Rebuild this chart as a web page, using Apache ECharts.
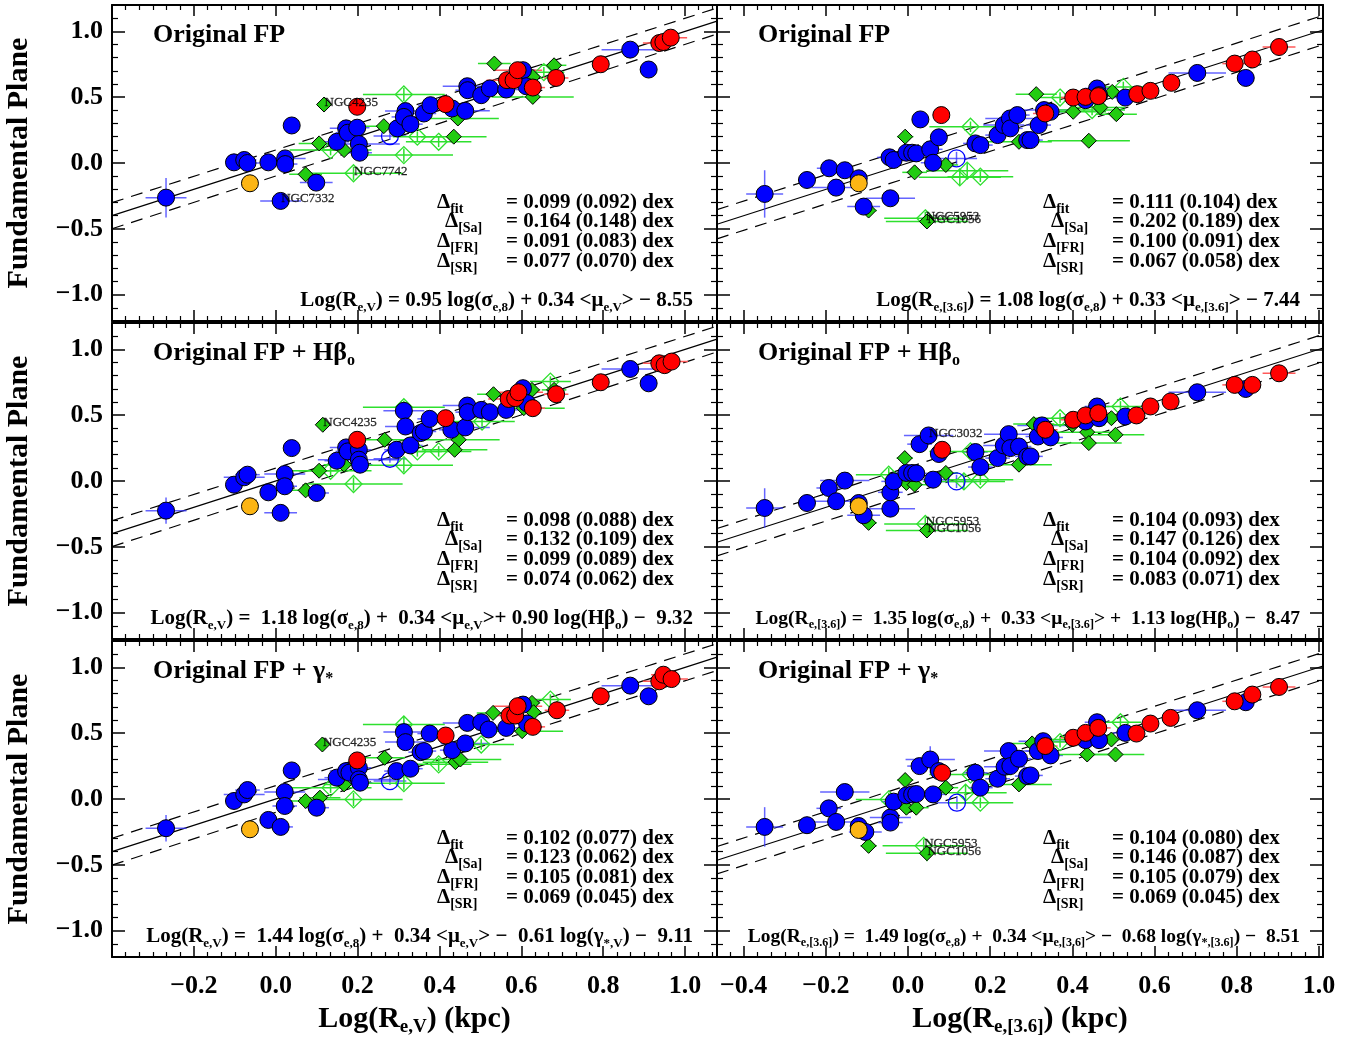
<!DOCTYPE html>
<html><head><meta charset="utf-8">
<script src="https://cdn.jsdelivr.net/npm/echarts@6/dist/echarts.min.js"></script>
<style>html,body{margin:0;padding:0;background:#fff}#c{width:1364px;height:1040px}</style>
</head><body><div id="c"></div>
<script>
// ---------------- DATA: [x, y, xerr, yerr] ----------------
// Panel 1: top-left (Original FP, V band)
const P1_blue = [[-0.268,-0.263,0.05,0.15],[-0.102,0.005,0.02,0.02],[-0.077,0.023,0.03,0.03],[-0.069,0.0,0.03,0.02],[-0.018,0.005,0.02,0.02],[0.023,0.035,0.05,0.03],[0.023,-0.008,0.03,0.02],[0.039,0.285,0.01,0.01],[0.099,-0.149,0.04,0.02],[0.012,-0.288,0.05,0.05],[0.149,0.161,0.03,0.02],[0.172,0.263,0.04,0.03],[0.176,0.23,0.03,0.02],[0.199,0.268,0.03,0.02],[0.203,0.144,0.1,0.02],[0.205,0.078,0.03,0.02],[0.297,0.263,0.03,0.02],[0.317,0.394,0.05,0.03],[0.313,0.35,0.03,0.02],[0.329,0.295,0.03,0.02],[0.362,0.376,0.03,0.02],[0.378,0.439,0.03,0.02],[0.431,0.414,0.03,0.02],[0.463,0.396,0.06,0.02],[0.468,0.583,0.06,0.02],[0.469,0.553,0.03,0.02],[0.502,0.515,0.03,0.02],[0.523,0.566,0.03,0.02],[0.563,0.558,0.03,0.02],[0.604,0.705,0.03,0.02],[0.612,0.583,0.03,0.02],[0.866,0.861,0.07,0.02],[0.911,0.71,0.02,0.02]];
const P1_blueOpen = [[0.279,0.205,0.04,0.03]];
const P1_orange = [[-0.063,-0.154,0.01,0.01]];
const P1_red = [[0.199,0.427,0.01,0.01],[0.415,0.447,0.02,0.01],[0.565,0.629,0.05,0.01],[0.581,0.629,0.03,0.01],[0.591,0.705,0.06,0.01],[0.628,0.573,0.03,0.01],[0.685,0.646,0.03,0.01],[0.794,0.75,0.02,0.01],[0.937,0.911,0.04,0.01],[0.947,0.919,0.03,0.01],[0.965,0.952,0.04,0.01]];
const P1_green = [[0.118,0.444,0.01,0.01],[0.106,0.149,0.05,0.02],[0.167,0.098,0.05,0.02],[0.073,-0.086,0.04,0.02],[0.264,0.28,0.05,0.02],[0.534,0.755,0.04,0.02],[0.68,0.742,0.03,0.02],[0.445,0.338,0.1,0.02],[0.435,0.2,0.08,0.02],[0.628,0.502,0.1,0.02],[0.628,0.654,0.02,0.02]];
const P1_greenOpen = [[0.313,0.52,0.1,0.05],[0.313,0.06,0.12,0.05],[0.19,-0.078,0.12,0.05],[0.134,0.098,0.1,0.04],[0.346,0.2,0.06,0.04],[0.398,0.161,0.08,0.04],[0.655,0.69,0.05,0.04]];
const P1_labels = [[0.118,0.444,'NGC4235'],[0.19,-0.078,'NGC7742'],[0.012,-0.288,'NGC7332']];

// Panel 2: top-right (Original FP, 3.6 micron)
const P2_blue = [[-0.349,-0.235,0.045,0.18],[-0.246,-0.129,0.02,0.05],[-0.192,-0.04,0.03,0.05],[-0.154,-0.055,0.02,0.03],[-0.175,-0.187,0.06,0.03],[-0.12,-0.116,0.02,0.05],[-0.108,-0.331,0.04,0.02],[-0.043,-0.268,0.06,0.03],[-0.045,0.043,0.03,0.04],[-0.035,0.023,0.03,0.02],[-0.004,0.078,0.03,0.02],[0.01,0.078,0.03,0.02],[0.02,0.073,0.03,0.02],[0.03,0.331,0.01,0.01],[0.054,0.104,0.03,0.03],[0.061,0.002,0.03,0.02],[0.075,0.195,0.02,0.02],[0.164,0.149,0.03,0.02],[0.176,0.136,0.03,0.02],[0.218,0.212,0.03,0.02],[0.233,0.288,0.05,0.02],[0.248,0.338,0.06,0.02],[0.249,0.263,0.03,0.02],[0.266,0.364,0.03,0.02],[0.29,0.174,0.03,0.02],[0.298,0.174,0.03,0.02],[0.318,0.288,0.03,0.02],[0.331,0.402,0.06,0.02],[0.347,0.389,0.03,0.02],[0.432,0.477,0.03,0.02],[0.46,0.566,0.03,0.02],[0.465,0.515,0.03,0.02],[0.529,0.497,0.03,0.02],[0.704,0.684,0.07,0.02],[0.822,0.646,0.02,0.02]];
const P2_blueOpen = [[0.118,0.035,0.05,0.05]];
const P2_orange = [[-0.12,-0.154,0.01,0.01]];
const P2_red = [[0.081,0.364,0.01,0.01],[0.334,0.376,0.03,0.01],[0.402,0.497,0.03,0.01],[0.432,0.502,0.03,0.01],[0.463,0.508,0.03,0.01],[0.558,0.523,0.02,0.01],[0.59,0.548,0.02,0.01],[0.641,0.609,0.02,0.01],[0.795,0.755,0.03,0.01],[0.838,0.786,0.02,0.01],[0.903,0.881,0.04,0.01]];
const P2_green = [[-0.007,0.2,0.02,0.02],[0.016,-0.071,0.03,0.02],[0.092,-0.015,0.03,0.02],[-0.096,-0.361,0.02,0.02],[0.046,-0.444,0.1,0.04],[0.27,0.161,0.08,0.02],[0.312,0.523,0.05,0.02],[0.402,0.389,0.08,0.02],[0.468,0.422,0.06,0.02],[0.497,0.54,0.05,0.02],[0.507,0.371,0.05,0.02],[0.44,0.169,0.1,0.02]];
const P2_greenOpen = [[0.152,0.275,0.1,0.04],[0.126,-0.109,0.1,0.06],[0.144,-0.058,0.1,0.06],[0.176,-0.104,0.08,0.04],[0.37,0.497,0.06,0.04],[0.524,0.578,0.05,0.04],[0.448,0.402,0.08,0.04],[0.042,-0.42,0.1,0.05]];
const P2_labels = [[0.042,-0.42,'NGC5953'],[0.046,-0.444,'NGC1056']];

// Panel 3: middle-left (Original FP + Hbeta, V band)
const P3_blue = [[-0.268,-0.225,0.05,0.1],[-0.102,-0.028,0.02,0.02],[-0.077,0.028,0.05,0.02],[-0.069,0.048,0.03,0.02],[-0.018,-0.086,0.02,0.02],[0.022,0.053,0.05,0.02],[0.022,-0.04,0.03,0.02],[0.039,0.25,0.01,0.01],[0.012,-0.242,0.04,0.04],[0.1,-0.091,0.03,0.02],[0.149,0.154,0.03,0.02],[0.172,0.255,0.04,0.02],[0.176,0.225,0.03,0.02],[0.203,0.237,0.03,0.02],[0.203,0.162,0.1,0.02],[0.206,0.124,0.03,0.02],[0.295,0.237,0.03,0.02],[0.313,0.533,0.05,0.02],[0.317,0.414,0.05,0.02],[0.329,0.27,0.03,0.02],[0.354,0.364,0.03,0.02],[0.362,0.376,0.03,0.02],[0.376,0.472,0.03,0.02],[0.429,0.389,0.03,0.02],[0.463,0.407,0.06,0.02],[0.468,0.573,0.06,0.02],[0.469,0.523,0.03,0.02],[0.502,0.54,0.03,0.02],[0.523,0.523,0.03,0.02],[0.563,0.54,0.03,0.02],[0.604,0.705,0.03,0.02],[0.614,0.591,0.03,0.02],[0.866,0.851,0.07,0.02],[0.911,0.742,0.02,0.02]];
const P3_blueOpen = [[0.279,0.169,0.04,0.03]];
const P3_orange = [[-0.063,-0.192,0.01,0.01]];
const P3_red = [[0.199,0.313,0.01,0.01],[0.415,0.477,0.02,0.01],[0.569,0.623,0.05,0.01],[0.585,0.629,0.03,0.01],[0.593,0.674,0.06,0.01],[0.628,0.553,0.03,0.01],[0.685,0.659,0.03,0.01],[0.794,0.75,0.02,0.01],[0.937,0.894,0.04,0.01],[0.95,0.88,0.03,0.01],[0.967,0.907,0.04,0.01]];
const P3_green = [[0.115,0.427,0.01,0.01],[0.106,0.078,0.05,0.02],[0.167,0.124,0.05,0.02],[0.073,-0.071,0.04,0.02],[0.266,0.313,0.05,0.02],[0.532,0.659,0.04,0.02],[0.68,0.692,0.03,0.02],[0.447,0.313,0.1,0.02],[0.437,0.237,0.08,0.02],[0.626,0.692,0.02,0.02],[0.606,0.553,0.1,0.02]];
const P3_greenOpen = [[0.19,-0.023,0.12,0.05],[0.313,0.119,0.12,0.05],[0.134,0.078,0.1,0.04],[0.346,0.225,0.06,0.04],[0.398,0.225,0.08,0.04],[0.504,0.452,0.08,0.04],[0.671,0.755,0.05,0.04],[0.313,0.56,0.1,0.05]];
const P3_labels = [[0.115,0.427,'NGC4235']];

// Panel 4: middle-right (Original FP + Hbeta, 3.6 micron)
const P4_blue = [[-0.349,-0.205,0.045,0.15],[-0.246,-0.167,0.02,0.04],[-0.193,-0.053,0.03,0.05],[-0.154,0.003,0.06,0.02],[-0.175,-0.154,0.06,0.03],[-0.12,-0.167,0.02,0.05],[-0.108,-0.26,0.04,0.02],[-0.043,-0.21,0.06,0.03],[-0.043,-0.086,0.03,0.04],[-0.035,-0.003,0.03,0.02],[-0.004,0.061,0.03,0.02],[0.01,0.061,0.03,0.02],[0.02,0.058,0.03,0.02],[0.028,0.28,0.03,0.02],[0.05,0.346,0.06,0.02],[0.061,0.01,0.03,0.02],[0.075,0.205,0.02,0.02],[0.164,0.22,0.03,0.02],[0.176,0.106,0.03,0.02],[0.218,0.174,0.03,0.02],[0.233,0.27,0.05,0.02],[0.245,0.356,0.06,0.02],[0.249,0.25,0.03,0.02],[0.27,0.262,0.03,0.02],[0.29,0.187,0.03,0.02],[0.298,0.187,0.03,0.02],[0.316,0.338,0.03,0.02],[0.326,0.422,0.06,0.02],[0.347,0.331,0.03,0.02],[0.432,0.452,0.03,0.02],[0.46,0.566,0.03,0.02],[0.465,0.477,0.03,0.02],[0.529,0.49,0.03,0.02],[0.704,0.674,0.07,0.02],[0.822,0.699,0.02,0.02]];
const P4_blueOpen = [[0.118,-0.003,0.05,0.05]];
const P4_orange = [[-0.12,-0.192,0.01,0.01]];
const P4_red = [[0.083,0.237,0.01,0.01],[0.334,0.389,0.03,0.01],[0.402,0.465,0.03,0.01],[0.432,0.498,0.03,0.01],[0.463,0.515,0.03,0.01],[0.556,0.498,0.02,0.01],[0.59,0.566,0.02,0.01],[0.639,0.604,0.02,0.01],[0.795,0.73,0.03,0.01],[0.838,0.73,0.02,0.01],[0.903,0.818,0.04,0.01]];
const P4_green = [[-0.008,0.174,0.02,0.02],[-0.004,-0.015,0.03,0.02],[0.016,-0.028,0.03,0.02],[0.092,0.061,0.03,0.02],[-0.096,-0.318,0.02,0.02],[0.046,-0.376,0.1,0.04],[0.27,0.124,0.08,0.02],[0.306,0.432,0.05,0.02],[0.436,0.371,0.08,0.02],[0.44,0.288,0.08,0.02],[0.505,0.351,0.07,0.02],[0.495,0.477,0.05,0.02],[0.4,0.427,0.08,0.02]];
const P4_greenOpen = [[0.042,-0.326,0.1,0.05],[-0.047,0.048,0.08,0.05],[0.152,0.225,0.1,0.04],[0.136,-0.003,0.1,0.06],[0.176,0.01,0.08,0.04],[0.37,0.477,0.06,0.04],[0.517,0.566,0.05,0.04]];
const P4_labels = [[0.05,0.346,'NGC3032'],[0.042,-0.326,'NGC5953'],[0.046,-0.376,'NGC1056']];

// Panel 5: bottom-left (Original FP + gamma, V band)
const P5_blue = [[-0.268,-0.222,0.05,0.1],[-0.102,-0.015,0.02,0.03],[-0.077,0.035,0.05,0.03],[-0.069,0.068,0.03,0.05],[-0.018,-0.159,0.02,0.02],[0.012,-0.212,0.03,0.03],[0.022,0.053,0.05,0.03],[0.022,-0.053,0.03,0.03],[0.039,0.217,0.01,0.01],[0.1,-0.066,0.03,0.02],[0.149,0.162,0.03,0.02],[0.172,0.212,0.04,0.02],[0.18,0.2,0.03,0.02],[0.203,0.237,0.03,0.02],[0.203,0.149,0.1,0.02],[0.206,0.124,0.03,0.02],[0.295,0.212,0.03,0.02],[0.313,0.508,0.05,0.08],[0.317,0.432,0.05,0.02],[0.329,0.23,0.03,0.02],[0.354,0.356,0.03,0.02],[0.362,0.364,0.03,0.02],[0.376,0.497,0.03,0.02],[0.431,0.371,0.03,0.02],[0.463,0.422,0.06,0.02],[0.468,0.578,0.06,0.02],[0.502,0.583,0.03,0.02],[0.52,0.528,0.03,0.02],[0.563,0.54,0.03,0.02],[0.604,0.717,0.03,0.02],[0.614,0.573,0.03,0.02],[0.866,0.861,0.07,0.02],[0.911,0.78,0.02,0.02]];
const P5_blueOpen = [[0.279,0.136,0.04,0.03]];
const P5_orange = [[-0.063,-0.23,0.01,0.02]];
const P5_red = [[0.199,0.293,0.01,0.01],[0.415,0.482,0.02,0.01],[0.571,0.634,0.05,0.01],[0.585,0.634,0.03,0.01],[0.591,0.705,0.06,0.01],[0.628,0.548,0.03,0.01],[0.687,0.674,0.03,0.01],[0.794,0.78,0.02,0.01],[0.937,0.894,0.04,0.01],[0.947,0.944,0.03,0.01],[0.967,0.911,0.04,0.01]];
const P5_green = [[0.114,0.414,0.01,0.01],[0.073,-0.015,0.04,0.02],[0.108,0.01,0.05,0.02],[0.167,0.111,0.05,0.02],[0.266,0.313,0.05,0.02],[0.531,0.654,0.04,0.02],[0.439,0.28,0.08,0.02],[0.451,0.3,0.1,0.02],[0.626,0.73,0.02,0.02],[0.63,0.659,0.02,0.02],[0.602,0.515,0.1,0.02]];
const P5_greenOpen = [[0.19,-0.003,0.12,0.05],[0.134,0.086,0.1,0.04],[0.313,0.566,0.1,0.06],[0.313,0.12,0.1,0.05],[0.398,0.263,0.08,0.05],[0.502,0.414,0.08,0.04],[0.671,0.755,0.05,0.04]];
const P5_labels = [[0.114,0.414,'NGC4235']];

// Panel 6: bottom-right (Original FP + gamma, 3.6 micron)
const P6_blue = [[-0.349,-0.212,0.045,0.15],[-0.246,-0.199,0.02,0.05],[-0.193,-0.071,0.03,0.05],[-0.154,0.053,0.06,0.06],[-0.175,-0.174,0.06,0.03],[-0.12,-0.205,0.02,0.05],[-0.104,-0.25,0.04,0.02],[-0.043,-0.141,0.05,0.05],[-0.043,-0.179,0.03,0.03],[-0.035,-0.02,0.03,0.02],[-0.004,0.028,0.03,0.02],[0.01,0.035,0.03,0.02],[0.02,0.038,0.03,0.02],[0.028,0.25,0.03,0.02],[0.054,0.3,0.06,0.1],[0.061,0.035,0.03,0.02],[0.075,0.212,0.02,0.02],[0.164,0.199,0.03,0.05],[0.176,0.086,0.03,0.02],[0.218,0.154,0.03,0.02],[0.235,0.245,0.05,0.02],[0.245,0.364,0.06,0.02],[0.249,0.25,0.03,0.02],[0.27,0.306,0.03,0.02],[0.29,0.174,0.03,0.02],[0.298,0.179,0.03,0.02],[0.316,0.364,0.03,0.02],[0.329,0.439,0.06,0.02],[0.347,0.331,0.03,0.02],[0.432,0.447,0.03,0.02],[0.46,0.583,0.03,0.02],[0.465,0.447,0.03,0.02],[0.529,0.502,0.03,0.02],[0.704,0.674,0.07,0.02],[0.822,0.735,0.02,0.02]];
const P6_blueOpen = [[0.119,-0.028,0.05,0.05]];
const P6_orange = [[-0.12,-0.235,0.01,0.02]];
const P6_red = [[0.083,0.199,0.01,0.01],[0.334,0.402,0.03,0.01],[0.402,0.465,0.03,0.01],[0.432,0.502,0.03,0.01],[0.463,0.54,0.03,0.01],[0.556,0.497,0.02,0.01],[0.59,0.573,0.02,0.01],[0.639,0.616,0.02,0.01],[0.795,0.742,0.03,0.01],[0.838,0.793,0.02,0.01],[0.903,0.851,0.04,0.01]];
const P6_green = [[-0.007,0.144,0.02,0.02],[-0.004,-0.066,0.03,0.02],[0.02,-0.066,0.03,0.02],[0.092,0.086,0.03,0.02],[-0.096,-0.356,0.02,0.05],[0.046,-0.412,0.1,0.06],[0.27,0.111,0.08,0.02],[0.302,0.422,0.05,0.02],[0.436,0.338,0.08,0.02],[0.505,0.338,0.07,0.02],[0.495,0.452,0.05,0.02],[0.4,0.452,0.08,0.02]];
const P6_greenOpen = [[0.038,-0.356,0.1,0.05],[-0.047,-0.003,0.08,0.05],[0.152,0.187,0.1,0.04],[0.14,0.048,0.1,0.06],[0.176,-0.028,0.08,0.04],[0.37,0.432,0.06,0.04],[0.517,0.583,0.05,0.04]];
const P6_labels = [[0.038,-0.356,'NGC5953'],[0.046,-0.412,'NGC1056']];

// Text content
const TITLES = ['Original FP','Original FP','Original FP + H\u03b2_{o}','Original FP + H\u03b2_{o}','Original FP + \u03b3_{*}','Original FP + \u03b3_{*}'];
const DELTA_SUBS = ['fit','[Sa]','[FR]','[SR]'];
const STATS = [
  ['0.099 (0.092)','0.164 (0.148)','0.091 (0.083)','0.077 (0.070)'],
  ['0.111 (0.104)','0.202 (0.189)','0.100 (0.091)','0.067 (0.058)'],
  ['0.098 (0.088)','0.132 (0.109)','0.099 (0.089)','0.074 (0.062)'],
  ['0.104 (0.093)','0.147 (0.126)','0.104 (0.092)','0.083 (0.071)'],
  ['0.102 (0.077)','0.123 (0.062)','0.105 (0.081)','0.069 (0.045)'],
  ['0.104 (0.080)','0.146 (0.087)','0.105 (0.079)','0.069 (0.045)']
];
const DFIT = [0.099,0.111,0.098,0.104,0.102,0.104];
const EQS = [
  'Log(R_{e,V}) = 0.95 log(\u03c3_{e,8}) + 0.34 <\u03bc_{e,V}> \u2212 8.55',
  'Log(R_{e,[3.6]}) = 1.08 log(\u03c3_{e,8}) + 0.33 <\u03bc_{e,[3.6]}> \u2212 7.44',
  'Log(R_{e,V}) =  1.18 log(\u03c3_{e,8}) +  0.34 <\u03bc_{e,V}>+ 0.90 log(H\u03b2_{o}) \u2212  9.32',
  'Log(R_{e,[3.6]}) =  1.35 log(\u03c3_{e,8}) +  0.33 <\u03bc_{e,[3.6]}> +  1.13 log(H\u03b2_{o}) \u2212  8.47',
  'Log(R_{e,V}) =  1.44 log(\u03c3_{e,8}) +  0.34 <\u03bc_{e,V}> \u2212  0.61 log(\u03b3_{*,V}) \u2212  9.11',
  'Log(R_{e,[3.6]}) =  1.49 log(\u03c3_{e,8}) +  0.34 <\u03bc_{e,[3.6]}> \u2212  0.68 log(\u03b3_{*,[3.6]}) \u2212  8.51'
];
const XTITLES = ['Log(R_{e,V}) (kpc)','Log(R_{e,[3.6]}) (kpc)'];
const YTITLE = 'Fundamental Plane';

// ---------------- LAYOUT ----------------
const FF = '"Liberation Serif","Times New Roman",serif';
const COL_LEFT = [112, 717], COL_W = [605, 606];
const ROW_TOP = [5, 323, 641], ROW_H = 316;
const XRANGE = [[-0.4, 1.078], [-0.465, 1.01]];
const YRANGE = [-1.2, 1.2];
const XLABEL_MIN = [-0.2, -0.4];
const EQ_FONT = [21, 21, 21, 19.6, 21, 19.5];

const PANELS = [
  {col:0,row:0,blue:P1_blue,blueOpen:P1_blueOpen,orange:P1_orange,red:P1_red,green:P1_green,greenOpen:P1_greenOpen,labels:P1_labels},
  {col:1,row:0,blue:P2_blue,blueOpen:P2_blueOpen,orange:P2_orange,red:P2_red,green:P2_green,greenOpen:P2_greenOpen,labels:P2_labels},
  {col:0,row:1,blue:P3_blue,blueOpen:P3_blueOpen,orange:P3_orange,red:P3_red,green:P3_green,greenOpen:P3_greenOpen,labels:P3_labels},
  {col:1,row:1,blue:P4_blue,blueOpen:P4_blueOpen,orange:P4_orange,red:P4_red,green:P4_green,greenOpen:P4_greenOpen,labels:P4_labels},
  {col:0,row:2,blue:P5_blue,blueOpen:P5_blueOpen,orange:P5_orange,red:P5_red,green:P5_green,greenOpen:P5_greenOpen,labels:P5_labels},
  {col:1,row:2,blue:P6_blue,blueOpen:P6_blueOpen,orange:P6_orange,red:P6_red,green:P6_green,greenOpen:P6_greenOpen,labels:P6_labels}
];

function fmtTick(step, minShow) {
  return function (v) {
    const k = Math.round(v / step);
    if (Math.abs(v - k * step) > 1e-6) return '';
    const r = Math.round(k * step * 10) / 10;
    if (r < minShow - 1e-9) return '';
    return r.toFixed(1).replace('-', '\u2212');
  };
}
// convert "_{...}" notation to echarts rich text
function rich(str, m, s) {
  let out = '', i = 0;
  const re = /_\{([^}]*)\}/g; let mt;
  while ((mt = re.exec(str)) !== null) {
    if (mt.index > i) out += '{' + m + '|' + str.slice(i, mt.index) + '}';
    out += '{' + s + '|' + mt[1] + '}';
    i = re.lastIndex;
  }
  if (i < str.length) out += '{' + m + '|' + str.slice(i) + '}';
  return out;
}
function rs(size, lh, sub) {
  const o = {fontSize:size, fontFamily:FF, fontWeight:'bold', fill:'#000', lineHeight:lh};
  if (sub) o.verticalAlign = 'bottom';
  return o;
}

function errRender(color, w) {
  return function (params, api) {
    const x = api.value(0), y = api.value(1), ex = api.value(2), ey = api.value(3);
    const l = api.coord([x - ex, y]), r = api.coord([x + ex, y]);
    const b = api.coord([x, y - ey]), t = api.coord([x, y + ey]);
    return {type:'group', children:[
      {type:'line', shape:{x1:l[0],y1:l[1],x2:r[0],y2:r[1]}, style:{stroke:color, lineWidth:w}},
      {type:'line', shape:{x1:b[0],y1:b[1],x2:t[0],y2:t[1]}, style:{stroke:color, lineWidth:w}}
    ]};
  };
}

const grid = [], xAxis = [], yAxis = [], series = [], graphic = [];
const axLine = {onZero:false, lineStyle:{color:'#000', width:2}};
PANELS.forEach((p, i) => {
  const L = COL_LEFT[p.col], T = ROW_TOP[p.row], W = COL_W[p.col];
  grid.push({left:L, top:T, width:W, height:ROW_H, containLabel:false});
  const xr = XRANGE[p.col];
  ['bottom','top'].forEach((pos, k) => {
    xAxis.push({type:'value', gridIndex:i, min:xr[0], max:xr[1], splitNumber:7, position:pos,
      axisLine:axLine, splitLine:{show:false},
      axisTick:{show:true, inside:true, length:11, lineStyle:{color:'#000', width:1.5}},
      minorTick:{show:true, splitNumber:6, length:5, lineStyle:{color:'#000', width:1.2}},
      axisLabel:{show: k===0 && p.row===2, formatter: fmtTick(0.2, XLABEL_MIN[p.col]), margin:16,
        fontSize:26, fontWeight:'bold', fontFamily:FF, color:'#000'}});
  });
  ['left','right'].forEach((pos, k) => {
    yAxis.push({type:'value', gridIndex:i, min:YRANGE[0], max:YRANGE[1], splitNumber:5, position:pos,
      axisLine:axLine, splitLine:{show:false},
      axisTick:{show:true, inside:true, length:13, lineStyle:{color:'#000', width:1.5}},
      minorTick:{show:true, splitNumber:5, length:6, lineStyle:{color:'#000', width:1.2}},
      axisLabel:{show: k===0 && p.col===0, formatter: fmtTick(0.5, -1.0), margin:9,
        fontSize:26, fontWeight:'bold', fontFamily:FF, color:'#000'}});
  });
  const xi = 2 * i, yi = 2 * i;
  const d = DFIT[i];
  const lineData = (off) => [[xr[0], xr[0] + off], [xr[1], xr[1] + off]];
  series.push({type:'line', xAxisIndex:xi, yAxisIndex:yi, data:lineData(0), symbol:'none', silent:true, z:2,
    lineStyle:{color:'#000', width:1.2}});
  [d, -d].forEach(off => series.push({type:'line', xAxisIndex:xi, yAxisIndex:yi, data:lineData(off), symbol:'none', silent:true, z:2,
    lineStyle:{color:'#000', width:1.2, type:[12, 8]}}));
  const errs = [[p.blue,'rgba(50,50,255,0.75)'],[p.blueOpen,'rgba(50,50,255,0.75)'],[p.green,'#2ee02e'],[p.greenOpen,'#2ee02e'],[p.red,'#ff5a5a'],[p.orange,'#f0a800']];
  errs.forEach(([arr, c]) => series.push({type:'custom', xAxisIndex:xi, yAxisIndex:yi, data:arr, renderItem:errRender(c, 1.5),
    encode:{x:0, y:1}, silent:true, z:3, clip:true}));
  const sc = (arr, symbol, size, color, border, bw, z) => series.push({type:'scatter', xAxisIndex:xi, yAxisIndex:yi, data:arr,
    symbol, symbolSize:size, silent:true, z, itemStyle:{color, borderColor:border, borderWidth:bw, opacity:1}});
  sc(p.greenOpen, 'diamond', 17, 'rgba(0,0,0,0)', '#2ee02e', 1.3, 4);
  sc(p.blueOpen, 'circle', 17, 'rgba(0,0,0,0)', '#0000ff', 1.3, 4);
  sc(p.green, 'diamond', 15, '#22cc11', '#000', 1, 5);
  sc(p.blue, 'circle', 17, '#0000ff', '#000', 1, 6);
  sc(p.orange, 'circle', 17, '#fcb514', '#000', 1, 7);
  sc(p.red, 'circle', 17, '#ff0000', '#000', 1, 8);
  series.push({type:'scatter', xAxisIndex:xi, yAxisIndex:yi, data:p.labels, symbolSize:1, silent:true, z:9,
    itemStyle:{color:'rgba(0,0,0,0)'},
    label:{show:true, position:'right', distance:0, offset:[0,-2], formatter:(q) => q.data[2],
      fontSize:13, fontFamily:FF, color:'#000', textBorderColor:'#000', textBorderWidth:0.3}});

  // title
  graphic.push({type:'text', x:L + 41, y:T + 30, z:100, style:{text:rich(TITLES[i], 'm', 's'), align:'left', verticalAlign:'middle',
    rich:{m:rs(26, 32), s:rs(16, 16, true)}}});
  // stats
  const eqX = p.col === 0 ? 506 : 1112;
  const rowsY = [198, 217, 237, 257];
  DELTA_SUBS.forEach((sub, k) => {
    graphic.push({type:'text', x:eqX - 69 + (k === 1 ? 8 : 0), y:T + rowsY[k], z:100,
      style:{text:'{m|\u0394}{s|' + sub + '}', align:'left', verticalAlign:'middle', rich:{m:rs(21, 27), s:rs(14, 14, true)}}});
    graphic.push({type:'text', x:eqX, y:T + rowsY[k], z:100,
      style:{text:'= ' + STATS[i][k] + ' dex', align:'left', verticalAlign:'middle', fontSize:21, fontWeight:'bold', fontFamily:FF, fill:'#000'}});
  });
  // equation
  const ef = EQ_FONT[i], es = Math.round(ef * 13 / 21 * 10) / 10;
  graphic.push({type:'text', x:(p.col === 0 ? 693 : 1300), y:T + 296, z:100,
    style:{text:rich(EQS[i], 'm', 's'), align:'right', verticalAlign:'middle', rich:{m:rs(ef, ef + 5), s:rs(es, es, true)}}});
  // y title
  if (p.col === 0) {
    graphic.push({type:'text', x:19, y:T + ROW_H / 2, rotation:Math.PI / 2, z:100,
      style:{text:YTITLE, align:'center', verticalAlign:'middle', fontSize:30, fontWeight:'bold', fontFamily:FF, fill:'#000'}});
  }
});
XTITLES.forEach((t, c) => {
  graphic.push({type:'text', x:COL_LEFT[c] + COL_W[c] / 2, y:1019, z:100,
    style:{text:rich(t, 'm', 's'), align:'center', verticalAlign:'middle', rich:{m:rs(30, 36), s:rs(19, 19, true)}}});
});

const chart = echarts.init(document.getElementById('c'), null, {renderer:'canvas'});
chart.setOption({animation:false, backgroundColor:'#fff', grid, xAxis, yAxis, series, graphic});
</script></body></html>
